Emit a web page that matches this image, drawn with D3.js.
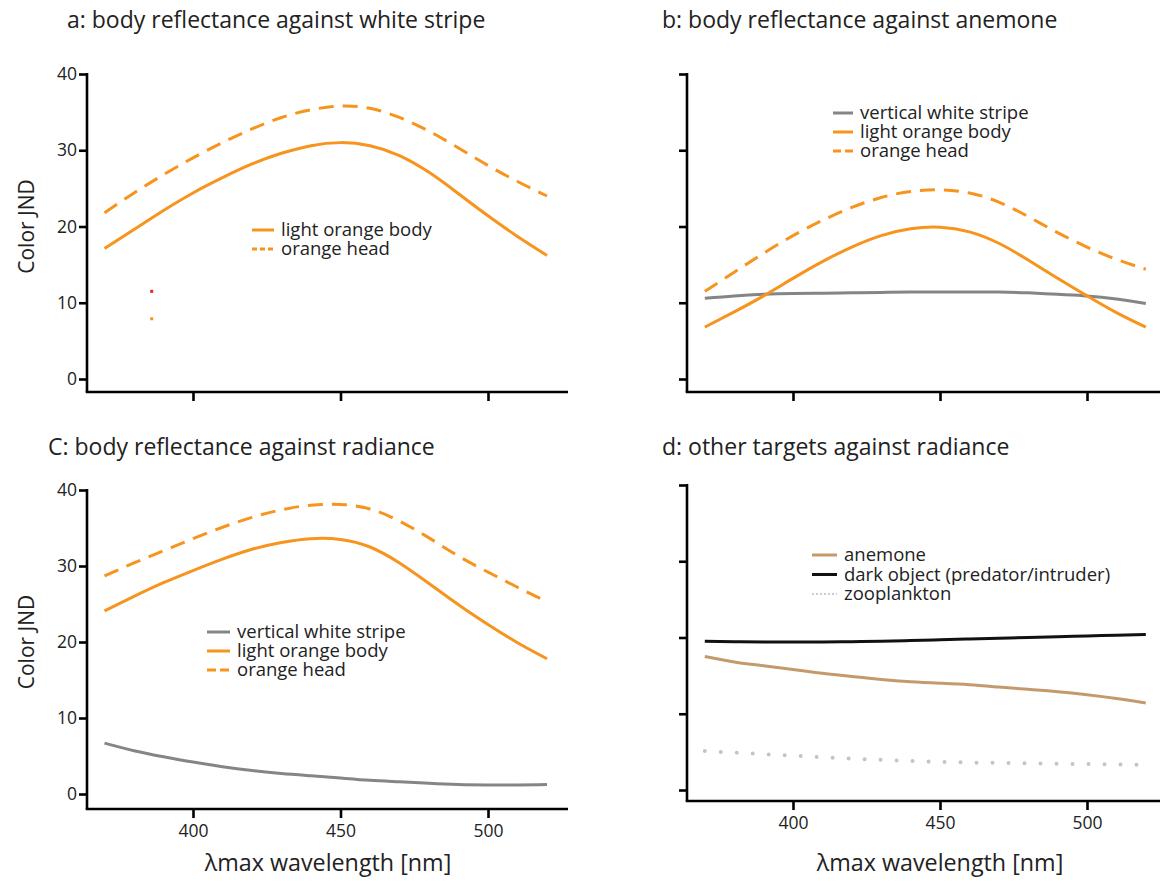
<!DOCTYPE html>
<html>
<head>
<meta charset="utf-8">
<script src="https://cdn.jsdelivr.net/npm/d3@7"></script>
<style>
  body { margin: 0; background: #fff; }
  text { font-family: "Open Sans", "Noto Sans", sans-serif; fill: #222; }
</style>
</head>
<body>
<div id="chart"></div>
<script>
// wavelengths (nm)
const wl = [370, 380, 390, 400, 410, 420, 430, 440, 450, 460, 470, 480, 490, 500, 510, 520];
const xTicks = [400, 450, 500];
const yTicks = [0, 10, 20, 30, 40];

// a: body reflectance against white stripe
const aBody = [17.1, 19.6, 22.1, 24.4, 26.4, 28.2, 29.6, 30.6, 31.0, 30.6, 29.3, 27.1, 24.3, 21.4, 18.7, 16.2];
const aHead = [21.8, 24.4, 26.8, 29.0, 31.0, 32.8, 34.3, 35.3, 35.8, 35.5, 34.3, 32.5, 30.3, 28.0, 25.9, 24.0];
const aStray = [{nm: 386, v: 11.5, c: "#e8202a"}, {nm: 386, v: 7.9, c: "#f7941d"}];

// b: body reflectance against anemone
const bStripe = [10.6, 10.9, 11.1, 11.2, 11.25, 11.3, 11.35, 11.4, 11.4, 11.4, 11.4, 11.3, 11.1, 10.9, 10.5, 9.9];
const bBody = [6.8, 8.8, 10.9, 13.2, 15.4, 17.3, 18.8, 19.7, 19.9, 19.3, 17.8, 15.6, 13.2, 10.9, 8.7, 6.8];
const bHead = [11.5, 14.0, 16.5, 18.8, 20.8, 22.5, 23.8, 24.6, 24.8, 24.4, 23.2, 21.3, 19.2, 17.3, 15.7, 14.4];

// c: body reflectance against radiance
const cStripe = [6.7, 5.7, 4.9, 4.2, 3.6, 3.1, 2.7, 2.4, 2.1, 1.8, 1.6, 1.4, 1.25, 1.2, 1.2, 1.25];
const cBody = [24.1, 26.0, 27.8, 29.4, 30.9, 32.2, 33.1, 33.6, 33.5, 32.5, 30.4, 27.7, 24.9, 22.3, 19.9, 17.8];
const cHead = [28.7, 30.4, 32.0, 33.6, 35.1, 36.4, 37.4, 38.0, 38.1, 37.5, 35.9, 33.7, 31.3, 29.2, 27.2, 25.3];

// d: other targets against radiance
const dAnemone = [17.5, 16.8, 16.3, 15.8, 15.3, 14.9, 14.5, 14.2, 14.0, 13.8, 13.5, 13.2, 12.9, 12.5, 12.0, 11.4];
const dDark = [19.5, 19.45, 19.4, 19.4, 19.4, 19.45, 19.5, 19.6, 19.7, 19.8, 19.9, 20.0, 20.1, 20.2, 20.3, 20.4];
const dZoo = [5.1, 4.9, 4.7, 4.5, 4.3, 4.1, 3.95, 3.8, 3.7, 3.6, 3.55, 3.5, 3.45, 3.4, 3.35, 3.3];

const ORANGE = "#f7941d", GRAY = "#858585", TAN = "#c49a6c", DARK = "#111", ZOO = "#c4c4c4";

const svg = d3.select("#chart").append("svg")
  .attr("width", 1161).attr("height", 884);

function panel(o) {
  const g = svg.append("g");
  const x = d3.scaleLinear().domain([400, 500]).range(o.xr);
  const y = d3.scaleLinear().domain([0, 40]).range(o.yr);

  // titulo
  g.append("text").attr("x", o.tx).attr("y", o.ty)
    .style("font-size", "23px").text(o.title);

  // ejes
  const yAxis = g.append("g").attr("transform", `translate(${o.axisX},0)`)
    .call(d3.axisLeft(y).tickValues(yTicks).tickSize(8).tickPadding(2)
      .tickFormat(o.yLabels ? d3.format("d") : ""));
  yAxis.select(".domain").remove();
  yAxis.append("line").attr("x1", 0).attr("x2", 0)
    .attr("y1", y(40) - 1).attr("y2", o.baseY).attr("stroke", "#000").attr("stroke-width", 2.6);
  yAxis.selectAll(".tick line").attr("stroke", "#000").attr("stroke-width", 2.6);
  yAxis.selectAll(".tick text").style("font-size", "17.5px").attr("fill", "#222");

  const xAxis = g.append("g").attr("transform", `translate(0,${o.baseY})`)
    .call(d3.axisBottom(x).tickValues(xTicks).tickSize(9).tickPadding(7)
      .tickFormat(o.xLabels ? d3.format("d") : ""));
  xAxis.select(".domain").remove();
  xAxis.append("line").attr("x1", o.axisX - 1.3).attr("x2", o.axisEnd)
    .attr("y1", 0).attr("y2", 0).attr("stroke", "#000").attr("stroke-width", 2.6);
  xAxis.selectAll(".tick line").attr("stroke", "#000").attr("stroke-width", 2.6);
  xAxis.selectAll(".tick text").style("font-size", "17.5px").attr("fill", "#222");

  if (o.yLabels) {
    g.append("text")
      .attr("transform", `translate(${o.axisX - 53},${(y(0) + y(40)) / 2}) rotate(-90)`)
      .attr("text-anchor", "middle").style("font-size", "21px").text("Color JND");
  }
  if (o.xLabels) {
    g.append("text").attr("x", o.lx).attr("y", 871)
      .attr("text-anchor", "middle").style("font-size", "23.3px").text("λmax wavelength [nm]");
  }

  const line = d3.line().x((d, i) => x(wl[i])).y(d => y(d)).curve(d3.curveNatural);
  o.series.forEach(s => {
    g.append("path").datum(s.values).attr("d", line)
      .attr("fill", "none").attr("stroke", s.color).attr("stroke-width", s.width || 3)
      .attr("stroke-linecap", s.cap || "butt")
      .attr("stroke-dasharray", s.dash || null);
  });
  (o.points || []).forEach(p => {
    g.append("rect").attr("x", x(p.nm) - 1.5).attr("y", y(p.v) - 1.5)
      .attr("width", 3).attr("height", 3).attr("fill", p.c);
  });

  // leyenda
  o.legend.forEach((l, i) => {
    const ly = o.lg.y + i * o.lg.dy;
    g.append("line").attr("x1", o.lg.x).attr("x2", o.lg.x + o.lg.w)
      .attr("y1", ly).attr("y2", ly).attr("stroke", l.color)
      .attr("stroke-width", l.width || 3).attr("stroke-dasharray", l.dash || null);
    g.append("text").attr("x", o.lg.x + o.lg.w + 7).attr("y", ly + 6)
      .style("font-size", "18.5px").attr("fill", "#333").text(l.label);
  });
}

panel({
  title: "a: body reflectance against white stripe", tx: 67, ty: 28,
  xr: [193, 488], yr: [379, 74], axisX: 87, axisEnd: 568, baseY: 392,
  yLabels: true, xLabels: false,
  series: [
    {values: aBody, color: ORANGE},
    {values: aHead, color: ORANGE, dash: "15,9"}
  ],
  points: aStray,
  lg: {x: 252, y: 230, dy: 19, w: 22},
  legend: [
    {label: "light orange body", color: ORANGE},
    {label: "orange head", color: ORANGE, dash: "5,3"}
  ]
});

panel({
  title: "b: body reflectance against anemone", tx: 662, ty: 28,
  xr: [793, 1087], yr: [379, 74], axisX: 687, axisEnd: 1160, baseY: 392,
  yLabels: false, xLabels: false,
  series: [
    {values: bStripe, color: GRAY},
    {values: bBody, color: ORANGE},
    {values: bHead, color: ORANGE, dash: "15,9"}
  ],
  lg: {x: 833, y: 113, dy: 19, w: 20},
  legend: [
    {label: "vertical white stripe", color: GRAY},
    {label: "light orange body", color: ORANGE},
    {label: "orange head", color: ORANGE, dash: "8,4"}
  ]
});

panel({
  title: "C: body reflectance against radiance", tx: 48, ty: 455,
  xr: [193, 488], yr: [794, 490], axisX: 87, axisEnd: 568, baseY: 809,
  yLabels: true, xLabels: true, lx: 328,
  series: [
    {values: cStripe, color: GRAY},
    {values: cBody, color: ORANGE},
    {values: cHead, color: ORANGE, dash: "15,9"}
  ],
  lg: {x: 207, y: 632, dy: 19, w: 23},
  legend: [
    {label: "vertical white stripe", color: GRAY},
    {label: "light orange body", color: ORANGE},
    {label: "orange head", color: ORANGE, dash: "9,4"}
  ]
});

panel({
  title: "d: other targets against radiance", tx: 662, ty: 455,
  xr: [793, 1087], yr: [790, 485], axisX: 687, axisEnd: 1160, baseY: 801,
  yLabels: false, xLabels: true, lx: 940,
  series: [
    {values: dDark, color: DARK},
    {values: dAnemone, color: TAN},
    {values: dZoo, color: ZOO, width: 4, cap: "round", dash: "0,16"}
  ],
  lg: {x: 812, y: 555, dy: 19.5, w: 25},
  legend: [
    {label: "anemone", color: TAN},
    {label: "dark object (predator/intruder)", color: DARK},
    {label: "zooplankton", color: "#999", width: 1, dash: "2,2"}
  ]
});
</script>
</body>
</html>
